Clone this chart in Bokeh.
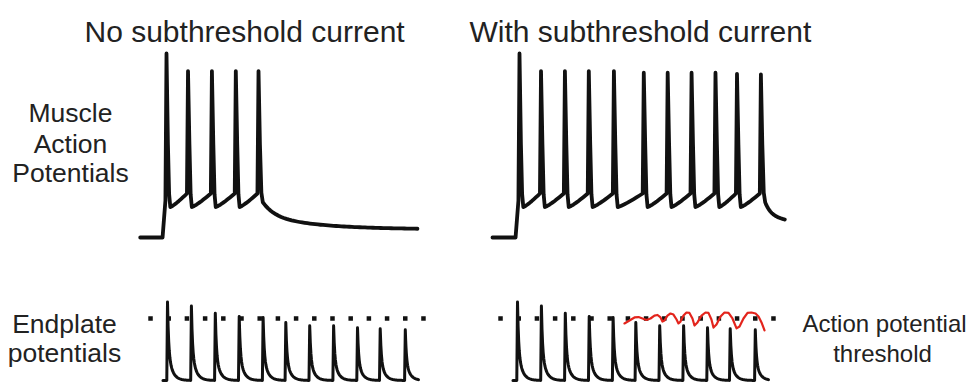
import numpy as np
from bokeh.plotting import figure
from bokeh.models import Range1d
from bokeh.core.properties import value
from bokeh.embed import file_html
from bokeh.resources import INLINE

# ---------------- data (ms, mV) ----------------
rest_mv = -80.0
threshold_mv = -50.0

# muscle action potentials, no subthreshold current
ap_times_no = [0, 18, 38, 58, 77]
ap_peaks_no = [35, 24, 24, 24, 24]
trace_span_no = [-22, 210]

# muscle action potentials, with subthreshold current
ap_times_with = [0, 18, 38, 58, 79, 104, 124, 144, 164, 182, 202]
ap_peaks_with = [35, 24, 24, 24, 24, 23, 23, 23, 23, 22.3, 22]
trace_span_with = [-22.6, 222]

# depolarised plateau levels between spikes
trough_mv = -61.0
prespike_mv = -52.5
final_mv = -75.0

# endplate potentials (same train in both columns)
epp_times = [0, 20, 40, 60, 80, 99, 119, 139, 159, 178, 199]
epp_peaks = [-42, -44, -47.5, -49, -49.5, -52, -53.5, -53.5, -54.5, -55, -55.5]
epp_span = [-3.8, 210]
threshold_span = [-14.2, 214.2]
threshold_dots = 16

# subthreshold current response (red)
red_t = [89.5, 93.7, 97.9, 101.3, 104.6, 107.9, 111.3, 114.6, 117.2, 119.7, 121.3, 123.0,
         125.5, 128.0, 130.5, 133.1, 134.7, 136.4, 138.9, 141.4, 143.9, 146.4, 148.1, 150.6,
         154.0, 157.3, 159.8, 162.3, 164.0, 166.5, 169.9, 173.2, 176.6, 179.9, 183.3, 185.8,
         189.1, 192.5, 195.8, 199.2, 201.7, 204.2, 206.7]
red_v = [-52.4, -51.0, -49.5, -49.3, -50.0, -50.7, -50.0, -48.6, -48.3, -49.5, -51.5, -51.0,
         -48.6, -47.6, -48.1, -50.5, -52.4, -51.5, -48.6, -47.1, -47.3, -50.0, -53.4, -51.9,
         -48.6, -47.1, -47.3, -50.5, -54.4, -52.9, -49.0, -47.1, -47.3, -50.0, -54.8, -53.9,
         -50.0, -47.3, -47.1, -47.6, -49.0, -51.9, -55.8]

# ---------------- trace builders ----------------
def ap_trace(times, peaks, span, tau_fast, tau_slow):
    t = [span[0], -3.3, -0.9]
    v = [rest_mv, rest_mv, -57.0]
    n = len(times)
    for i, (ts, pk) in enumerate(zip(times, peaks)):
        t += [ts]
        v += [pk]
        if i < n - 1:
            t += [ts + 1.2, ts + 2.2, ts + 3.2]
            v += [-22.0, -53.0, trough_mv]
            nxt = times[i + 1] - 0.9
            seg = np.linspace(ts + 3.2, nxt, 9)[1:]
            frac = (seg - (ts + 3.2)) / (nxt - (ts + 3.2))
            t += list(seg)
            v += list(trough_mv + (prespike_mv - trough_mv) * frac ** 1.2)
        else:
            t += [ts + 1.2, ts + 2.4]
            v += [-22.0, -52.0]
            seg = np.linspace(ts + 3.6, span[1], 60)
            dt = seg - (ts + 3.6)
            amp = -58.0 - final_mv
            t += list(seg)
            v += list(final_mv + amp * (0.5 * np.exp(-dt / tau_fast) + 0.5 * np.exp(-dt / tau_slow)))
    return t, v


def epp_trace(times, peaks, span):
    t = [span[0]]
    v = [rest_mv]
    for i, (ts, pk) in enumerate(zip(times, peaks)):
        t += [ts - 0.6]
        v += [rest_mv]
        end = times[i + 1] - 0.6 if i < len(times) - 1 else span[1]
        seg = np.linspace(ts, end, 40)
        dt = seg - ts
        a = pk - rest_mv
        t += list(seg)
        v += list(rest_mv + a * (0.6 * np.exp(-dt / 0.9) + 0.4 * np.exp(-dt / 3.5)))
    return t, v


# ---------------- figure ----------------
W, H = 972, 390
p = figure(width=W, height=H, x_range=Range1d(0, W), y_range=Range1d(H, 0),
           output_backend="svg", toolbar_location=None, min_border=0,
           x_axis_type=None, y_axis_type=None)
p.grid.visible = False
p.outline_line_color = None
p.background_fill_color = "white"
p.border_fill_color = "white"

# panel placement: (canvas x of t=0, px per ms, canvas y of reference mV, reference mV, px per mV)
panels = {
    "ap_no": (166, 1.195, 237, rest_mv, 1.6),
    "ap_with": (519, 1.195, 237, rest_mv, 1.6),
    "epp_no": (167, 1.195, 380, rest_mv, 2.067),
    "epp_with": (517, 1.195, 380, rest_mv, 2.067),
}
xr, yr = {}, {}
for name, (x0, kx, y0, v0, ky) in panels.items():
    xs = -x0 / kx
    xr[name] = Range1d(xs, xs + W / kx)
    yr[name] = Range1d(v0 - (H - y0) / ky, v0 + y0 / ky)
p.extra_x_ranges = xr
p.extra_y_ranges = yr

ink = "#111111"

t, v = ap_trace(ap_times_no, ap_peaks_no, trace_span_no, 10, 45)
p.line(t, v, x_range_name="ap_no", y_range_name="ap_no", line_color=ink,
       line_width=3.8, line_join="round", line_cap="round")

t, v = ap_trace(ap_times_with, ap_peaks_with, trace_span_with, 5, 45)
p.line(t, v, x_range_name="ap_with", y_range_name="ap_with", line_color=ink,
       line_width=3.8, line_join="round", line_cap="round")

dot_t = np.linspace(threshold_span[0], threshold_span[1], threshold_dots)
for name in ["epp_no", "epp_with"]:
    p.scatter(dot_t, [threshold_mv] * threshold_dots, marker="square", size=4.5,
              x_range_name=name, y_range_name=name, fill_color=ink, line_color=None)
    t, v = epp_trace(epp_times, epp_peaks, epp_span)
    p.line(t, v, x_range_name=name, y_range_name=name, line_color=ink,
           line_width=3, line_join="round", line_cap="round")

p.line(red_t, red_v, x_range_name="epp_with", y_range_name="epp_with",
       line_color="#e3241c", line_width=2.2, line_join="round", line_cap="round")

# ---------------- text ----------------
font = value("Liberation Sans")
txt = "#222222"
p.text(x=[84, 469], y=[31, 31], text=["No subthreshold current", "With subthreshold current"],
       text_font=font, text_font_size="30px", text_align="left", text_baseline="alphabetic",
       text_color=txt)
p.text(x=[70, 70, 70], y=[112, 143, 172], text=["Muscle", "Action", "Potentials"],
       text_font=font, text_font_size="26.5px", text_align="center", text_baseline="alphabetic",
       text_color=txt)
p.text(x=[64, 64], y=[323, 352], text=["Endplate", "potentials"],
       text_font=font, text_font_size="26.5px", text_align="center", text_baseline="alphabetic",
       text_color=txt)
p.text(x=[884, 882], y=[323, 353], text=["Action potential", "threshold"],
       text_font=font, text_font_size="24px", text_align="center", text_baseline="alphabetic",
       text_color=txt)

open("out.html", "w").write(file_html(p, INLINE))
